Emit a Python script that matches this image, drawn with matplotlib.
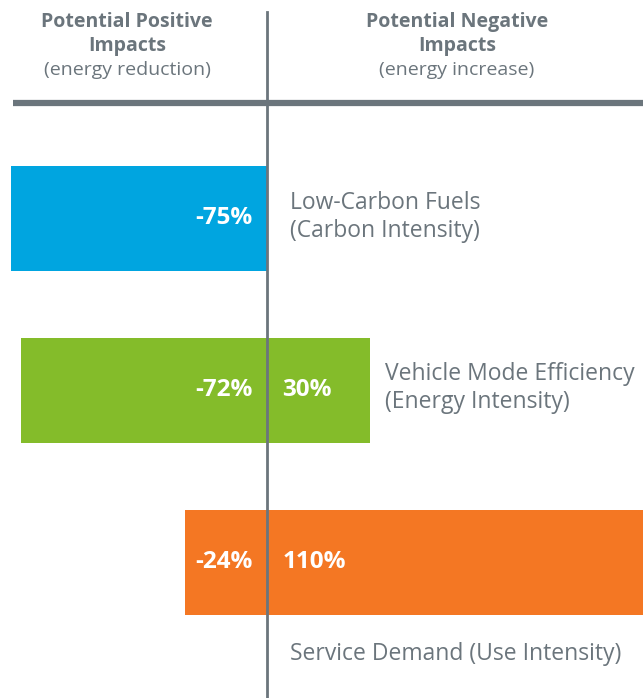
import matplotlib
matplotlib.use("Agg")
import matplotlib.pyplot as plt

categories = ["Low-Carbon Fuels\n(Carbon Intensity)",
              "Vehicle Mode Efficiency\n(Energy Intensity)",
              "Service Demand (Use Intensity)"]
positive = [-75, -72, -24]
negative = [0, 30, 110]
colors = ["#00a5e0", "#84bc2a", "#f47723"]
header_left = ["Potential Positive", "Impacts", "(energy reduction)"]
header_right = ["Potential Negative", "Impacts", "(energy increase)"]

gray = "#6b757c"
plt.rcParams['font.family'] = ['Open Sans', 'DejaVu Sans']

fig = plt.figure(figsize=(6.43, 6.98), dpi=100)
ax = fig.add_axes([0, 0, 1, 1])
ax.set_xlim(-78.2, 110)
ax.set_ylim(2.788, -1.270)
ax.axis("off")

ypos = list(range(len(categories)))
for y, p, n, c in zip(ypos, positive, negative, colors):
    ax.barh(y, p, height=0.61, color=c, zorder=1)
    if n:
        ax.barh(y, n, height=0.61, color=c, zorder=1)
    ax.text(-4.4, y, f"{p}%", color="white", fontsize=17.5, fontweight="bold",
            ha="right", va="center", zorder=3)
    if n:
        ax.text(4.4, y, f"{n}%", color="white", fontsize=17.5, fontweight="bold",
                ha="left", va="center", zorder=3)

# category labels
ax.text(6.8, -0.01, categories[0], color=gray, fontsize=16.5, ha="left",
        va="center", linespacing=1.22)
ax.text(34.4, 0.985, categories[1], color=gray, fontsize=16.5, ha="left",
        va="center", linespacing=1.22)
ax.text(6.8, 2.535, categories[2], color=gray, fontsize=16.5, ha="left",
        va="center")

# center line
ax.plot([0, 0], [-1.20, 2.788], color=gray, lw=2, zorder=2, clip_on=False)
# separator
ax.plot([-74.5, 110], [-0.67, -0.67], color=gray, lw=4.5, solid_capstyle="butt", zorder=2)

# headers
for xs, lines in [(-41, header_left), (55.5, header_right)]:
    ax.text(xs, -1.143, lines[0], color=gray, fontsize=14, fontweight="bold",
            ha="center", va="center")
    ax.text(xs, -1.003, lines[1], color=gray, fontsize=14, fontweight="bold",
            ha="center", va="center")
    ax.text(xs, -0.863, lines[2], color=gray, fontsize=14,
            ha="center", va="center")

fig.savefig("out.png", dpi=100, facecolor="white")
